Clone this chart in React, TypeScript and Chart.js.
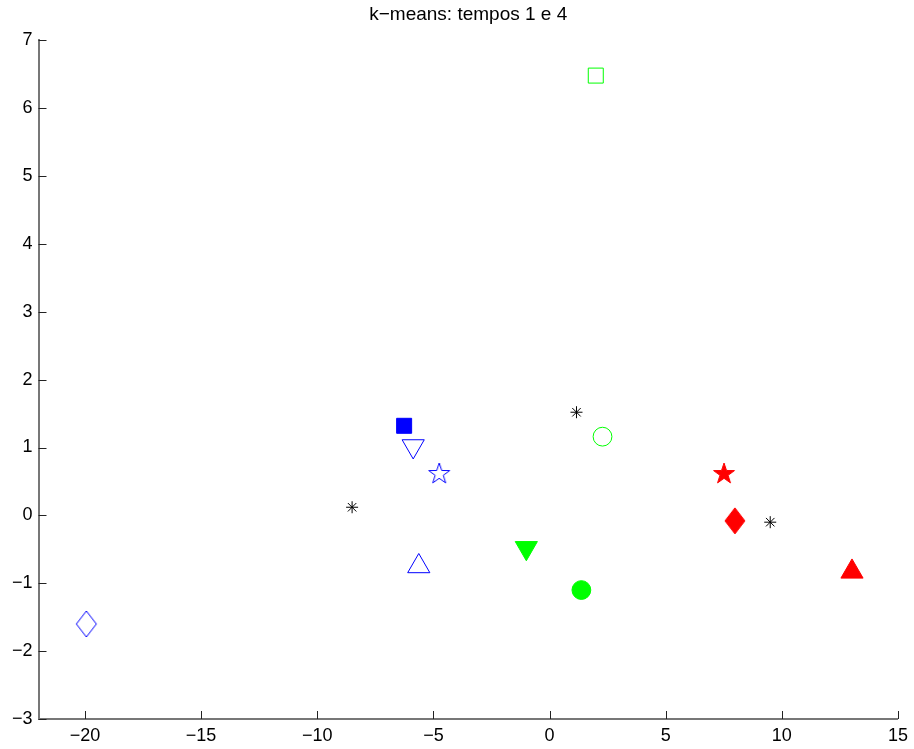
import React, { useEffect, useRef } from 'react';
import { Chart, registerables } from 'chart.js';

Chart.register(...registerables);

const TITLE = 'k\u2212means: tempos 1 e 4';
const X_MIN = -22;
const X_MAX = 15;
const X_STEP = 5;
const Y_MIN = -3;
const Y_MAX = 7;
const Y_STEP = 1;

// centroids (black asterisks)
const centroidX = [-8.5, 1.16, 9.5];
const centroidY = [0.12, 1.52, -0.1];

// blue cluster
const blueX = [-6.26, -5.87, -4.75, -5.63, -19.94];
const blueY = [1.32, 1.02, 0.61, -0.75, -1.6];
const blueMarkers = ['square', 'triangleDown', 'pentagram', 'triangleUp', 'diamond'];
const blueFilled = [true, false, false, false, false];

// green cluster
const greenX = [1.99, 2.28, -1.0, 1.37];
const greenY = [6.48, 1.16, -0.48, -1.1];
const greenMarkers = ['square', 'circle', 'triangleDown', 'circle'];
const greenFilled = [false, false, true, true];

// red cluster
const redX = [7.51, 7.98, 13.02];
const redY = [0.61, -0.08, -0.83];
const redMarkers = ['pentagram', 'diamond', 'triangleUp'];
const redFilled = [true, true, true];

const FONT = "'Liberation Sans', Arial, Helvetica, sans-serif";

function makePentagram(color: string, filled: boolean): HTMLCanvasElement {
  const c = document.createElement('canvas');
  c.width = 26;
  c.height = 26;
  const ctx = c.getContext('2d')!;
  const cx = 13, cy = 13, R = 11, r = 4.3;
  ctx.beginPath();
  for (let i = 0; i < 10; i++) {
    const a = -Math.PI / 2 + (i * Math.PI) / 5;
    const rad = i % 2 === 0 ? R : r;
    const px = cx + Math.cos(a) * rad;
    const py = cy + Math.sin(a) * rad;
    if (i === 0) ctx.moveTo(px, py);
    else ctx.lineTo(px, py);
  }
  ctx.closePath();
  if (filled) {
    ctx.fillStyle = color;
    ctx.fill();
  }
  ctx.strokeStyle = color;
  ctx.lineWidth = 1;
  ctx.stroke();
  return c;
}

function makeDiamond(color: string, filled: boolean): HTMLCanvasElement {
  const c = document.createElement('canvas');
  c.width = 24;
  c.height = 30;
  const ctx = c.getContext('2d')!;
  const cx = 12, cy = 15, hw = 10, hh = 13;
  ctx.beginPath();
  ctx.moveTo(cx, cy - hh);
  ctx.lineTo(cx + hw, cy);
  ctx.lineTo(cx, cy + hh);
  ctx.lineTo(cx - hw, cy);
  ctx.closePath();
  if (filled) {
    ctx.fillStyle = color;
    ctx.fill();
  }
  ctx.strokeStyle = color;
  ctx.lineWidth = 1;
  ctx.stroke();
  return c;
}

function markerProps(kind: string, color: string, filled: boolean) {
  switch (kind) {
    case 'square':
      return { style: 'rect', rotation: 0, radius: 10.6 };
    case 'circle':
      return { style: 'circle', rotation: 0, radius: 9.4 };
    case 'triangleUp':
      return { style: 'triangle', rotation: 0, radius: 12.8 };
    case 'triangleDown':
      return { style: 'triangle', rotation: 180, radius: 12.8 };
    case 'pentagram':
      return { style: makePentagram(color, filled), rotation: 0, radius: 11 };
    case 'diamond':
      return { style: makeDiamond(color, filled), rotation: 0, radius: 12 };
    default:
      return { style: 'star', rotation: 0, radius: 6 };
  }
}

function buildDataset(xs: number[], ys: number[], kinds: string[], filled: boolean[], color: string) {
  const props = kinds.map((k, i) => markerProps(k, color, filled[i]));
  return {
    type: 'scatter' as const,
    data: xs.map((x, i) => ({ x, y: ys[i] })),
    showLine: false,
    pointStyle: props.map((p) => p.style),
    pointRotation: props.map((p) => p.rotation),
    pointRadius: props.map((p) => p.radius),
    pointHoverRadius: props.map((p) => p.radius),
    pointBackgroundColor: filled.map((f) => (f ? color : 'rgba(0,0,0,0)')),
    pointBorderColor: color,
    pointBorderWidth: 1,
    pointHoverBorderWidth: 1,
  };
}

const inwardTicks = {
  id: 'inwardTicks',
  afterDraw(chart: any) {
    const { ctx, chartArea } = chart;
    const xs = chart.scales.x;
    const ys = chart.scales.y;
    const len = 8;
    ctx.save();
    ctx.strokeStyle = '#222';
    ctx.lineWidth = 1;
    ctx.beginPath();
    xs.ticks.forEach((t: any) => {
      const px = Math.round(xs.getPixelForValue(t.value)) + 0.5;
      ctx.moveTo(px, chartArea.bottom);
      ctx.lineTo(px, chartArea.bottom - len);
    });
    ys.ticks.forEach((t: any) => {
      const py = Math.round(ys.getPixelForValue(t.value)) + 0.5;
      ctx.moveTo(chartArea.left, py);
      ctx.lineTo(chartArea.left + len, py);
    });
    ctx.stroke();
    ctx.restore();
  },
};

const fmt = (v: any) => String(v).replace('-', '\u2212');

export default function App() {
  const ref = useRef<HTMLCanvasElement | null>(null);

  useEffect(() => {
    if (!ref.current) return;
    const chart = new Chart(ref.current, {
      type: 'scatter',
      data: {
        datasets: [
          buildDataset(blueX, blueY, blueMarkers, blueFilled, '#0000ff'),
          buildDataset(greenX, greenY, greenMarkers, greenFilled, '#00ff00'),
          buildDataset(redX, redY, redMarkers, redFilled, '#ff0000'),
          buildDataset(
            centroidX,
            centroidY,
            centroidX.map(() => 'asterisk'),
            centroidX.map(() => false),
            '#000000'
          ),
        ] as any,
      },
      options: {
        responsive: false,
        animation: false,
        devicePixelRatio: 1,
        layout: { padding: { left: 0, right: 15.7, top: 0.5, bottom: 0 } },
        plugins: {
          legend: { display: false },
          tooltip: { enabled: false },
          title: {
            display: true,
            text: TITLE,
            fullSize: false,
            color: '#000',
            font: { family: FONT, size: 19, weight: 'normal' },
            padding: { top: 3, bottom: 14 },
          },
        },
        scales: {
          x: {
            type: 'linear',
            min: X_MIN,
            max: X_MAX,
            grid: { display: false, drawTicks: false },
            border: { display: true, color: '#777', width: 2 },
            ticks: {
              stepSize: X_STEP,
              includeBounds: false,
              color: '#000',
              padding: 6,
              maxRotation: 0,
              font: { family: FONT, size: 18 },
              callback: (v: any) => fmt(v),
            },
            afterFit: (s: any) => {
              s.height = 30;
            },
          },
          y: {
            type: 'linear',
            min: Y_MIN,
            max: Y_MAX,
            grid: { display: false, drawTicks: false },
            border: { display: true, color: '#777', width: 2 },
            ticks: {
              stepSize: Y_STEP,
              includeBounds: false,
              color: '#000',
              padding: 6,
              font: { family: FONT, size: 18 },
              callback: (v: any) => fmt(v),
            },
            afterFit: (s: any) => {
              s.width = 38.5;
            },
          },
        },
      } as any,
      plugins: [inwardTicks],
    });
    return () => chart.destroy();
  }, []);

  return (
    <div style={{ position: 'absolute', left: 0, top: 0, width: 914, height: 749, background: '#fff' }}>
      <canvas ref={ref} width={914} height={749} style={{ display: 'block' }} />
    </div>
  );
}
